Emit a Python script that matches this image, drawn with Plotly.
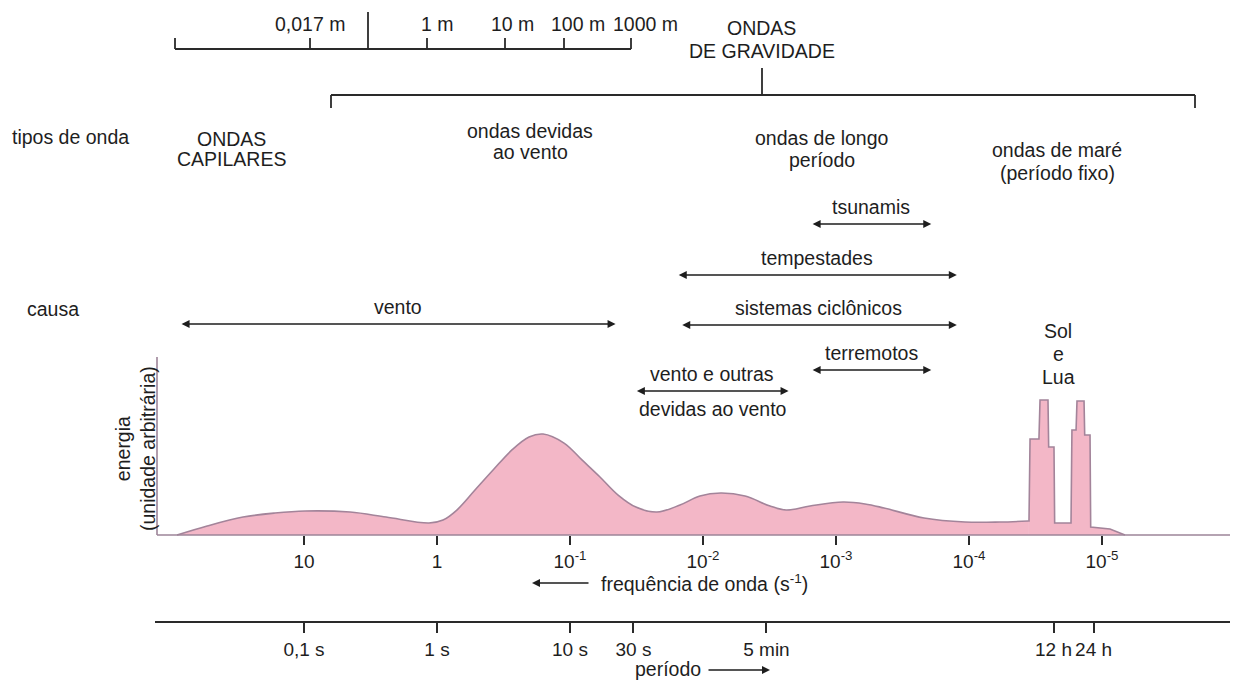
import numpy as np
import plotly.graph_objects as go

W, H = 1236, 682

# ---------------- data ----------------
# energy spectrum, x as wave period in seconds (= 1/frequency), energy in arbitrary units
smooth_period_s = [0.0111, 0.0187, 0.0348, 0.0605, 0.102, 0.222, 0.414, 0.871, 1.11, 1.41,
                   1.93, 2.64, 3.66, 4.92, 6.27, 9.02, 12.3, 16.8, 23.0, 31.3,
                   45.1, 67.1, 94.8, 136, 207, 319, 421, 638, 1130, 1652,
                   2296, 4592, 9333, 17100, 27800]
smooth_energy = [0, 6.7, 13.3, 16.3, 17.8, 17.0, 13.3, 8.9, 11.1, 18.5,
                 33.3, 48.1, 63.0, 72.6, 74.8, 68.1, 55.6, 43.0, 29.6, 20.7,
                 17.0, 22.2, 28.9, 31.1, 28.9, 21.5, 18.5, 21.5, 24.4, 23.0,
                 20.0, 12.6, 9.6, 9.6, 10.4]
tidal_period_s = [27800, 28250, 28770, 33570, 34200, 39260, 39720, 43550, 44060, 58480,
                  59430, 63830, 64860, 73280, 74130, 81280, 82220, 114800, 148900]
tidal_energy = [10.4, 10.4, 71.1, 71.1, 100, 100, 65.2, 65.2, 8.9, 8.9,
                77.8, 77.8, 99.3, 99.3, 74.1, 74.1, 5.9, 4.4, 0]

freq_tick_period_s = [0.1, 1, 10, 100, 1000, 1e4, 1e5]
freq_tick_text = ["10", "1", "10<sup>-1</sup>", "10<sup>-2</sup>", "10<sup>-3</sup>",
                  "10<sup>-4</sup>", "10<sup>-5</sup>"]
period_tick_s = [0.1, 1, 10, 30, 300, 43200, 86400]
period_tick_text = ["0,1 s", "1 s", "10 s", "30 s", "5 min", "12 h", "24 h"]

cause_names = ["tsunamis", "tempestades", "sistemas ciclônicos", "vento", "terremotos", "vento e outras"]
cause_start_s = [650, 64, 68, 0.0117, 650, 31]
cause_end_s = [5200, 8100, 8100, 22, 5200, 440]

wavelength_labels = ["0,017 m", "1 m", "10 m", "100 m", "1000 m"]

# ---------------- layout helpers ----------------
FONT = "Liberation Sans, Arial, Helvetica, sans-serif"
TXT = "#1e1e1e"
FS = 19.5
TFS = 19
X0PX, PXDEC = 437.0, 133.0           # pixel of period 1 s, pixels per decade
XR = [(0 - X0PX) / PXDEC, (W - X0PX) / PXDEC]
E_PX = 1.35                           # px per energy unit
BASE_PY = 535
YR = [-(H - BASE_PY) / E_PX, BASE_PY / E_PX]


def xp(px):
    return px / W


def yp(py):
    return 1 - py / H


fig = go.Figure()
fig.add_trace(go.Scatter(x=smooth_period_s, y=smooth_energy, mode="lines",
                         line=dict(color="#a3849a", width=1.6, shape="spline", smoothing=1.0),
                         fill="tozeroy", fillcolor="#f3b7c7", hoverinfo="skip", showlegend=False))
fig.add_trace(go.Scatter(x=tidal_period_s, y=tidal_energy, mode="lines",
                         line=dict(color="#a3849a", width=1.6, shape="linear"),
                         fill="tozeroy", fillcolor="#f3b7c7", hoverinfo="skip", showlegend=False))
# dummy trace for the period axis
fig.add_trace(go.Scatter(x=[1], y=[0], xaxis="x2", mode="markers", marker=dict(opacity=0),
                         hoverinfo="skip", showlegend=False))

shapes = []
ann = []


def line(x0, y0, x1, y1, color="#2a2a2a", width=1.8):
    shapes.append(dict(type="line", xref="paper", yref="paper", x0=xp(x0), y0=yp(y0),
                       x1=xp(x1), y1=yp(y1), line=dict(color=color, width=width)))


def text(t, x, y, anchor="center", size=FS):
    ann.append(dict(text=t, xref="paper", yref="paper", x=xp(x), y=yp(y), xanchor=anchor,
                    yanchor="middle", showarrow=False, font=dict(family=FONT, size=size, color=TXT)))


# energy axes
AX = "#9d8599"
line(157, BASE_PY, 1230, BASE_PY, AX, 1.6)
line(157, 357, 157, BASE_PY, AX, 1.6)
# period axis line
line(155, 622, 1230, 622, "#2a2a2a", 1.8)

# top wavelength scale
line(175, 49, 631, 49)
for px in [175, 310, 427, 505, 564, 631]:
    line(px, 38, px, 49)
line(368, 12, 368, 49)
for lab, cx in zip(wavelength_labels, [310, 437, 512, 578, 646]):
    text(lab, cx, 24)

# gravity waves bracket
text("ONDAS", 762, 28)
text("DE GRAVIDADE", 762, 51)
line(331, 95, 1195, 95)
line(331, 95, 331, 108)
line(1195, 95, 1195, 108)
line(762, 68, 762, 95)

# wave types row
text("tipos de onda", 10, 137, "left")
text("ONDAS", 231, 139)
text("CAPILARES", 231, 159)
text("ondas devidas", 530, 131)
text("ao vento", 530, 152)
text("ondas de longo", 822, 138)
text("período", 822, 160)
text("ondas de maré", 1057, 150)
text("(período fixo)", 1057, 173)

# causes
text("causa", 25, 309, "left")
arrow_y = [224, 275, 325, 324, 370, 391]
for name, s0, s1, ay in zip(cause_names, cause_start_s, cause_end_s, arrow_y):
    l0, l1 = np.log10(s0), np.log10(s1)
    ann.append(dict(text="", xref="x", yref="paper", x=l1, y=yp(ay), axref="x", ax=l0,
                    ayref="pixel", ay=0, showarrow=True, arrowhead=2, arrowside="end+start",
                    arrowsize=1.0, arrowwidth=1.6, arrowcolor="#1e1e1e", standoff=0, startstandoff=0))
    ann.append(dict(text=name, xref="x", yref="paper", x=(l0 + l1) / 2, y=yp(ay - 17),
                    xanchor="center", yanchor="middle", showarrow=False,
                    font=dict(family=FONT, size=FS, color=TXT)))
text("devidas ao vento", 713, 409)

# Sol e Lua
text("Sol", 1058, 331)
text("e", 1058, 354)
text("Lua", 1058, 377)

# energy title
ann.append(dict(text="energia<br>(unidade arbitrária)", xref="paper", yref="paper", x=xp(135),
                y=yp(449), xanchor="center", yanchor="middle", textangle=-90, showarrow=False,
                font=dict(family=FONT, size=FS, color=TXT)))

# frequency label and arrow
text("frequência de onda (s<sup>-1</sup>)", 599, 583, "left")
ann.append(dict(text="", xref="paper", yref="paper", x=xp(532), y=yp(583), ax=58, ay=0,
                showarrow=True, arrowhead=2, arrowsize=1.0, arrowwidth=1.6, arrowcolor="#1e1e1e"))
# period label and arrow
text("período", 703, 669, "right")
ann.append(dict(text="", xref="paper", yref="paper", x=xp(770), y=yp(670), ax=-63, ay=0,
                showarrow=True, arrowhead=2, arrowsize=1.0, arrowwidth=1.6, arrowcolor="#1e1e1e"))

fig.update_layout(
    width=W, height=H, autosize=False,
    margin=dict(l=0, r=0, t=0, b=0, pad=0),
    paper_bgcolor="white", plot_bgcolor="white",
    showlegend=False,
    shapes=shapes, annotations=ann,
    xaxis=dict(type="log", range=XR, domain=[0, 1], anchor="free", position=yp(BASE_PY),
               showline=False, showgrid=False, zeroline=False,
               tickmode="array", tickvals=freq_tick_period_s, ticktext=freq_tick_text,
               ticks="outside", ticklen=9, tickwidth=2, tickcolor="#2a2a2a",
               tickfont=dict(family=FONT, size=TFS, color=TXT), fixedrange=True),
    xaxis2=dict(type="log", range=XR, domain=[0, 1], anchor="free", position=yp(622),
                overlaying="x", matches="x", side="bottom",
                showline=False, showgrid=False, zeroline=False,
                tickmode="array", tickvals=period_tick_s, ticktext=period_tick_text,
                ticks="outside", ticklen=10, tickwidth=2, tickcolor="#2a2a2a",
                tickfont=dict(family=FONT, size=TFS, color=TXT), fixedrange=True),
    yaxis=dict(range=YR, domain=[0, 1], visible=False, fixedrange=True),
)

fig.write_html("out.html")
